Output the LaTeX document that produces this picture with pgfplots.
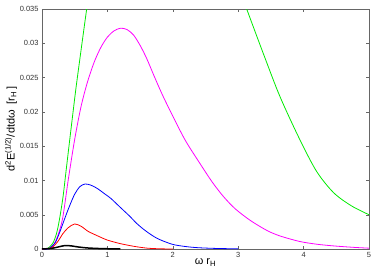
\documentclass[border=0pt]{standalone}
\usepackage{fontspec}
\setmainfont{Liberation Sans}
\usepackage{pgfplots}
\pgfplotsset{compat=1.18}
\definecolor{cgreen}{RGB}{0,235,0}
\definecolor{cmag}{RGB}{255,0,255}
\definecolor{cblue}{RGB}{0,0,255}
\definecolor{cred}{RGB}{255,0,0}
\begin{document}
\begin{tikzpicture}
\begin{axis}[
  scale only axis, width=327bp, height=240bp,
  xmin=0, xmax=5, ymin=0, ymax=0.035,
  xtick={0,1,2,3,4,5},
  ytick={0,0.005,0.01,0.015,0.02,0.025,0.03,0.035},
  yticklabels={0,0.005,0.01,0.015,0.02,0.025,0.03,0.035},
  scaled y ticks=false,
  /pgf/number format/assume math mode=true,
  tick label style={font=\fontsize{7.5}{8}\selectfont, text=black!80},
  tick align=inside, major tick length=3bp,
  axis line style={draw=black!60, line width=0.7pt},
  every tick/.style={draw=black!60},
  xlabel={ω r\textsubscript{H}},
  ylabel={d\textsuperscript{2}E\textsuperscript{(1/2)}/dtdω\ \ [r\textsubscript{H}\,]},
  xlabel style={font=\fontsize{11}{12}\selectfont, yshift=6bp},
  ylabel style={font=\fontsize{11}{12}\selectfont, yshift=-4bp},
  clip=true,
]
\addplot[cgreen, line width=0.8pt, smooth] coordinates {
(0,0) (0.08,0.00005) (0.163,0.0008) (0.22,0.0022) (0.265,0.0042) (0.32,0.0075) (0.367,0.0113) (0.41,0.0148) (0.46,0.0188) (0.52,0.0235) (0.6,0.0292) (0.683,0.035) (0.74,0.039)};
\addplot[cgreen, line width=0.8pt, smooth] coordinates {
(3.0,0.0385) (3.13,0.035) (3.4,0.0281) (3.64,0.0222) (3.94,0.0160) (4.2,0.0113) (4.46,0.0082) (4.73,0.0063) (5,0.0050)};
\addplot[cmag, line width=0.8pt, smooth] coordinates {
(0,0) (0.08,0.00003) (0.163,0.0004) (0.24,0.0019) (0.316,0.0045) (0.4,0.0100) (0.5,0.0160) (0.6,0.0209) (0.7,0.0245) (0.8,0.0273) (0.9,0.0294) (1.0,0.0309) (1.1,0.0318) (1.2,0.0322) (1.3,0.0320) (1.4,0.0312) (1.5,0.0297) (1.6,0.0278) (1.72,0.0251) (1.85,0.0223) (2.03,0.0188) (2.2,0.0157) (2.42,0.0124) (2.6,0.0098) (2.77,0.0077) (2.95,0.0059) (3.18,0.0042) (3.44,0.0027) (3.64,0.0019) (3.94,0.0011) (4.2,0.0007) (4.46,0.00045) (4.75,0.00025) (5,0.00012)};
\addplot[cblue, line width=0.8pt, smooth] coordinates {
(0,0) (0.1,0.00004) (0.2,0.0009) (0.265,0.0023) (0.35,0.0045) (0.418,0.0062) (0.5,0.0080) (0.58,0.0091) (0.66,0.00948) (0.75,0.0093) (0.85,0.0088) (0.95,0.0081) (1.05,0.0074) (1.15,0.0065) (1.25,0.0056) (1.35,0.0047) (1.44,0.0038) (1.55,0.0029) (1.65,0.0022) (1.75,0.0016) (1.87,0.0011) (2.03,0.0006) (2.3,0.00025) (2.6,0.0001) (3.0,0.00002)};
\addplot[cred, line width=0.8pt, smooth] coordinates {
(0,0) (0.15,0.0002) (0.25,0.0012) (0.316,0.0022) (0.4,0.0031) (0.5,0.00365) (0.6,0.0033) (0.7,0.0026) (0.785,0.0022) (0.9,0.0017) (1.0,0.0013) (1.19,0.0008) (1.4,0.0004) (1.6,0.00013) (1.8,0.00003) (2.0,0)};
\addplot[black, line width=1.5pt, smooth] coordinates {
(0,0) (0.15,0.0001) (0.25,0.0003) (0.35,0.0005) (0.45,0.00045) (0.55,0.0003) (0.7,0.00015) (0.9,0.00006) (1.2,0)};
\end{axis}
\path[use as bounding box] ([shift={(-42bp,-24bp)}]current axis.south west) rectangle ([shift={(13bp,9bp)}]current axis.north east);
\end{tikzpicture}
\end{document}
